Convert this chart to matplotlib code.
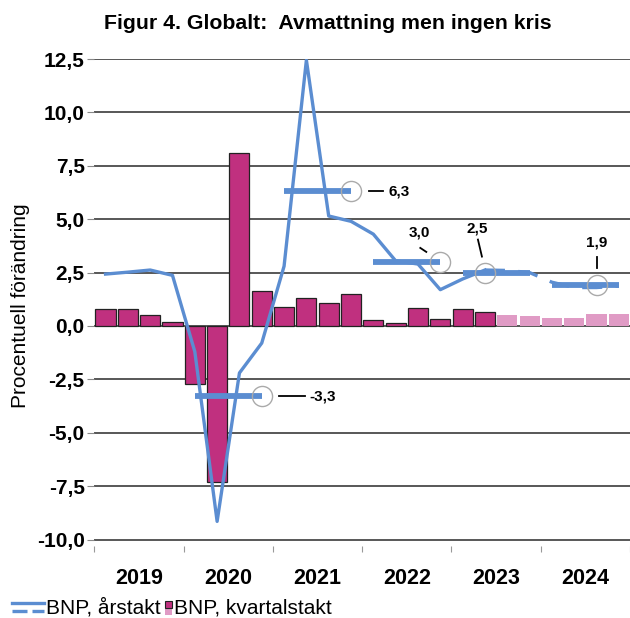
import numpy as np
import matplotlib
matplotlib.use("Agg")
import matplotlib.pyplot as plt
from matplotlib.lines import Line2D
from matplotlib.patches import Rectangle

plt.rcParams["font.family"] = ["Liberation Sans", "DejaVu Sans"]

BLUE = "#5b8dd1"
MAGENTA = "#c0307f"
PINK = "#e09bc5"
GRID = "#4a4a4a"

years = ["2019", "2020", "2021", "2022", "2023", "2024"]
# kvartalstakt (q/q), 2019K1 - 2024K4
kvartal = [0.8, 0.8, 0.5, 0.17,
           -2.7, -7.3, 8.1, 1.65,
           0.9, 1.3, 1.06, 1.5,
           0.28, 0.12, 0.83, 0.33,
           0.8, 0.64, 0.52, 0.47,
           0.36, 0.36, 0.56, 0.56]
n_utfall = 18          # antal kvartal med utfall, resten prognos
# årstakt (y/y) per kvartal
arstakt = [2.43, 2.52, 2.62, 2.37,
           -1.2, -9.15, -2.2, -0.8,
           2.8, 12.45, 5.15, 4.9,
           4.3, 3.05, 2.9, 1.7,
           2.2, 2.62, 2.6, 2.5,
           2.05, 1.8, 1.8, 1.87]
# årsgenomsnitt 2020-2024
ar_snitt = [-3.3, 6.3, 3.0, 2.5, 1.9]
ar_snitt_txt = ["-3,3", "6,3", "3,0", "2,5", "1,9"]
ring_kvartal = [3, 3, 3, 1, 2]     # var ringen sitter inom året

# etikett-layout (pixlar relativt ringen, y uppåt): text (dx, dy), ledare (x0, y0, x1, y1)
etikett = [
    ((48, 0), (17, 0, 43, 0), "left"),
    ((37, 0), (18, 0, 32, 0), "left"),
    ((-21, 29), (-20, 14, -14, 10), "center"),
    ((-8, 44), (-7, 33, -3, 16), "center"),
    ((0, 43), (0, 28, 0, 17), "center"),
]


class StackedLines:
    pass


class StackedPatch:
    pass


def handler_lines(legend, orig, fontsize, box):
    w, h = box.width, box.height
    l1 = Line2D([0, w], [h * 0.8, h * 0.8], color=BLUE, lw=2.4)
    l2 = Line2D([0, w], [h * 0.2, h * 0.2], color=BLUE, lw=2.4,
                dashes=(4.5, 1.5))
    box.add_artist(l1)
    box.add_artist(l2)
    return l1


def handler_patch(legend, orig, fontsize, box):
    w, h = box.width, box.height
    pw = 5.0
    p2 = Rectangle((w - pw, -h * 0.1), pw, h * 0.55, color=PINK, lw=0)
    p1 = Rectangle((w - pw, h * 0.45), pw, h * 0.5, facecolor=MAGENTA,
                   edgecolor="#222222", lw=0.8)
    box.add_artist(p2)
    box.add_artist(p1)
    return p1


class _H:
    def __init__(self, fn):
        self.fn = fn

    def legend_artist(self, legend, orig, fontsize, box):
        return self.fn(legend, orig, fontsize, box)


fig = plt.figure(figsize=(6.3, 6.18), dpi=100)
ax = fig.add_axes([0.1498, 0.1062, 0.8502, 0.7983])

x = np.arange(len(kvartal))
ax.set_xlim(-0.5, len(kvartal) - 0.5)
ax.set_ylim(-10.6, 12.5)

ax.bar(x[:n_utfall], kvartal[:n_utfall], width=0.9, color=MAGENTA,
       edgecolor="#222222", linewidth=0.9, zorder=2)
ax.bar(x[n_utfall:], kvartal[n_utfall:], width=0.9, color=PINK,
       linewidth=0, zorder=2)

ax.plot(x[:n_utfall], arstakt[:n_utfall], color=BLUE, lw=2.4, zorder=3)
ax.plot(x[n_utfall - 1:], arstakt[n_utfall - 1:], color=BLUE, lw=2.4,
        zorder=3, dashes=(6, 4))

# pixlar per dataenhet
sx = ax.bbox.width / np.diff(ax.get_xlim())[0]
sy = ax.bbox.height / np.diff(ax.get_ylim())[0]

for i, (v, txt, rq, lay) in enumerate(zip(ar_snitt, ar_snitt_txt,
                                          ring_kvartal, etikett)):
    yr = i + 1
    ax.plot([yr * 4, yr * 4 + 3], [v, v], color=BLUE, lw=4.2,
            solid_capstyle="butt", zorder=4)
    cx = yr * 4 + rq
    ax.plot(cx, v, "o", ms=14.5, mfc="none", mec="#aaaaaa", mew=1.0,
            zorder=5)
    (tdx, tdy), (lx0, ly0, lx1, ly1), ha = lay
    ax.text(cx + tdx / sx, v + tdy / sy, txt, ha=ha, va="center",
            fontsize=11, fontweight="bold", zorder=6)
    ax.plot([cx + lx0 / sx, cx + lx1 / sx], [v + ly0 / sy, v + ly1 / sy],
            color="black", lw=1.3, zorder=6)

yt = np.arange(-10, 12.6, 2.5)
ax.set_yticks(yt)
ax.set_yticklabels([f"{v:.1f}".replace(".", ",") for v in yt],
                   fontsize=15, fontweight="bold")
ax.tick_params(axis="y", length=5, color="#888888", pad=2)
ax.grid(axis="y", color=GRID, lw=1.3, zorder=1)
ax.set_axisbelow(True)

ax.set_xticks(np.arange(-0.5, len(kvartal), 4))
ax.set_xticklabels([])
ax.tick_params(axis="x", length=4, color="#999999", direction="in")
ax.set_xticks(np.arange(1.5, len(kvartal), 4), minor=True)
ax.set_xticklabels(years, minor=True, fontsize=15.5, fontweight="bold")
ax.tick_params(axis="x", which="minor", length=0, pad=11)
for s in ax.spines.values():
    s.set_visible(False)

ax.set_ylabel("Procentuell förändring", fontsize=15, labelpad=5)
fig.text(0.52, 0.962, "Figur 4. Globalt:  Avmattning men ingen kris",
         ha="center", va="center", fontsize=15.3, fontweight="bold")

fig.legend([StackedLines(), StackedPatch()],
           ["BNP, årstakt", "BNP, kvartalstakt"],
           handler_map={StackedLines: _H(handler_lines),
                        StackedPatch: _H(handler_patch)},
           loc="lower left", bbox_to_anchor=(-0.01, -0.03), ncol=2,
           frameon=False, fontsize=15, handlelength=1.5, handletextpad=0.1,
           columnspacing=-0.95, handleheight=0.65)

fig.savefig("out.png", dpi=100)
